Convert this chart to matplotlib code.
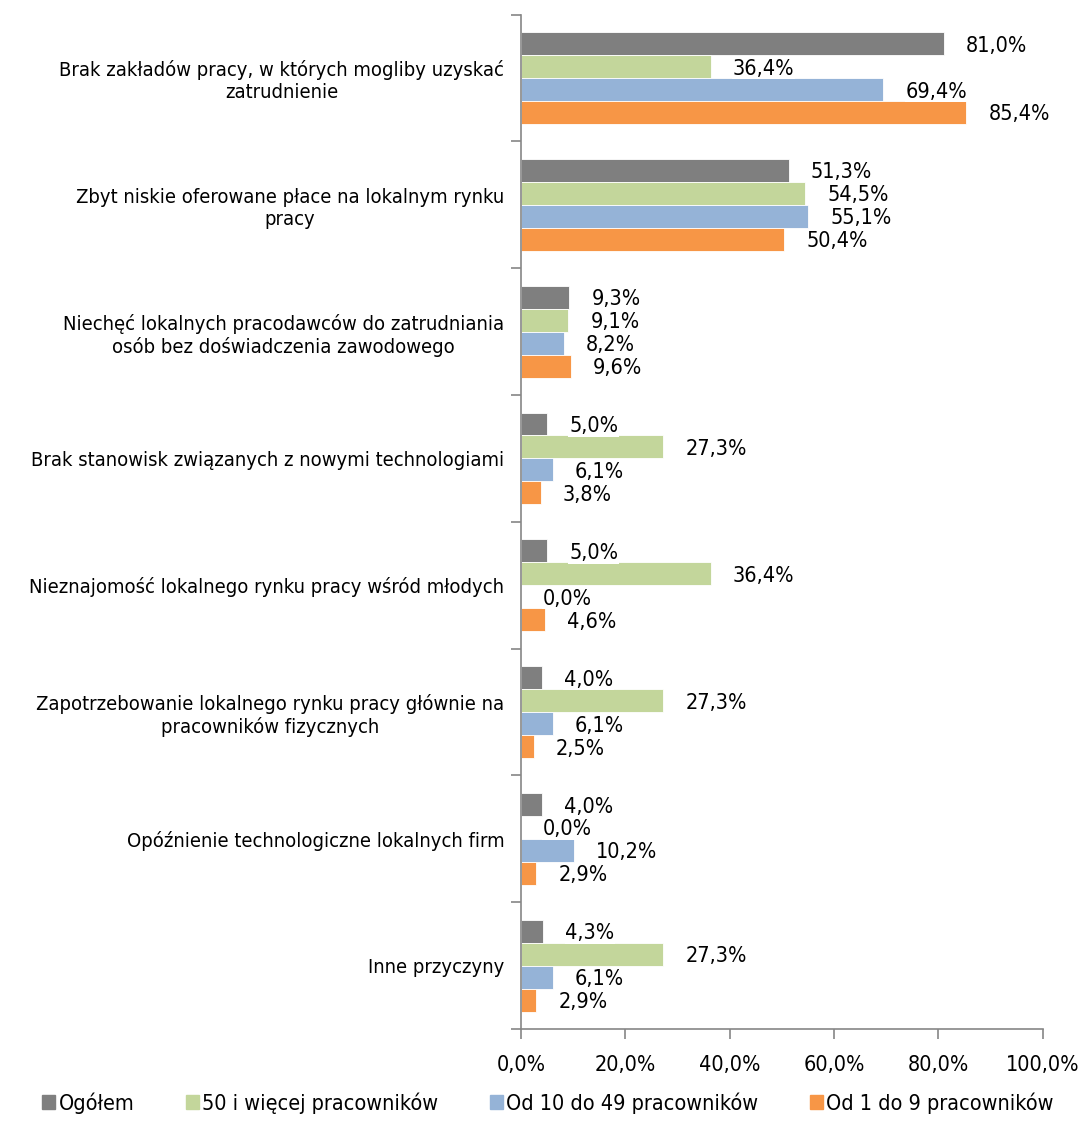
import numpy as np
import matplotlib.pyplot as plt
from matplotlib.ticker import FuncFormatter
from matplotlib.patches import Patch

plt.rcParams['font.family'] = ['DejaVu Sans']
plt.rcParams['font.stretch'] = 'condensed'

categories = [
    "Brak zakładów pracy, w których mogliby uzyskać\nzatrudnienie",
    "Zbyt niskie oferowane płace na lokalnym rynku\npracy",
    "Niechęć lokalnych pracodawców do zatrudniania\nosób bez doświadczenia zawodowego",
    "Brak stanowisk związanych z nowymi technologiami",
    "Nieznajomość lokalnego rynku pracy wśród młodych",
    "Zapotrzebowanie lokalnego rynku pracy głównie na\npracowników fizycznych",
    "Opóźnienie technologiczne lokalnych firm",
    "Inne przyczyny",
]
series_names = ["Ogółem", "50 i więcej pracowników",
                "Od 10 do 49 pracowników", "Od 1 do 9 pracowników"]
ogolem   = [81.0, 51.3, 9.3, 5.0, 5.0, 4.0, 4.0, 4.3]
duze     = [36.4, 54.5, 9.1, 27.3, 36.4, 27.3, 0.0, 27.3]
srednie  = [69.4, 55.1, 8.2, 6.1, 0.0, 6.1, 10.2, 6.1]
male     = [85.4, 50.4, 9.6, 3.8, 4.6, 2.5, 2.9, 2.9]
colors = ["#7F7F7F", "#C3D69B", "#95B3D7", "#F79646"]

fig = plt.figure(figsize=(10.85, 11.21), dpi=100)
ax = fig.add_axes([0.480, 0.082, 0.481, 0.905])

n = len(categories)
y = np.arange(n)
h = 0.181
offsets = [-1.5 * h, -0.5 * h, 0.5 * h, 1.5 * h]
for vals, off, col in zip([ogolem, duze, srednie, male], offsets, colors):
    bars = ax.barh(y + off, vals, height=h, color=col, edgecolor="white",
                   linewidth=0.6)
    for b, v in zip(bars, vals):
        ax.annotate(f"{v:.1f}%".replace(".", ","),
                    (b.get_width(), b.get_y() + b.get_height() / 2),
                    xytext=(16, -1.5), textcoords="offset points",
                    ha="left", va="center", fontsize=15.5, color="#000000",
                    bbox=dict(facecolor="white", edgecolor="none", pad=0.5))

ax.set_xlim(0, 100)
ax.set_ylim(n - 0.5, -0.5)
ax.set_xticks(np.arange(0, 101, 20))
ax.xaxis.set_major_formatter(FuncFormatter(lambda v, p: f"{v:.1f}%".replace(".", ",")))
ax.set_yticks(y)
ax.set_yticklabels(categories, multialignment="center")
ax.set_yticks(np.arange(-0.5, n, 1), minor=True)
ax.tick_params(axis="y", which="major", length=0, pad=12, labelsize=14.5)
ax.tick_params(axis="y", which="minor", length=7, color="#868686", width=1.2)
ax.tick_params(axis="x", length=7, color="#868686", width=1.2, labelsize=15.5, pad=12)

for s in ["top", "right"]:
    ax.spines[s].set_visible(False)
for s in ["left", "bottom"]:
    ax.spines[s].set_color("#868686")
    ax.spines[s].set_linewidth(1.2)

handles = [Patch(color=c) for c in colors]
fig.legend(handles, series_names, loc="center", bbox_to_anchor=(0.505, 0.016),
           ncol=4, frameon=False, fontsize=15.5, handlelength=0.6,
           handleheight=0.6, handletextpad=0.15, columnspacing=2.4)

fig.savefig("out.png", dpi=100)
